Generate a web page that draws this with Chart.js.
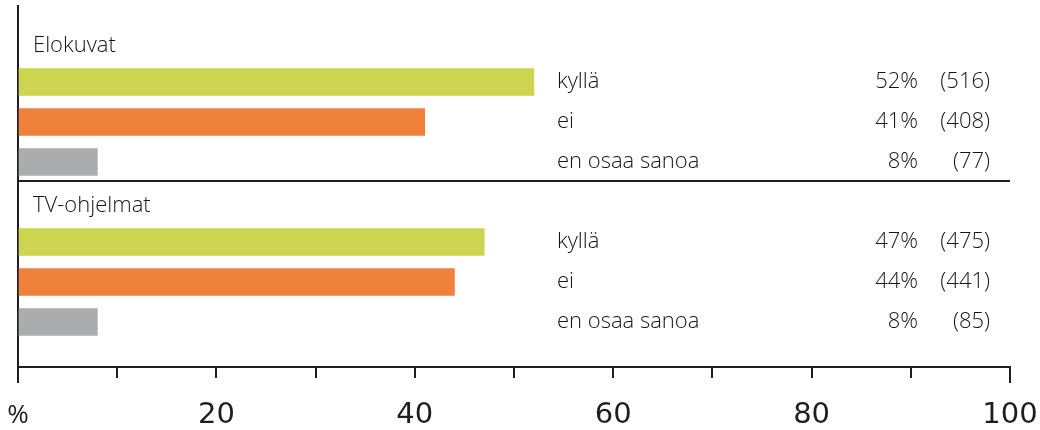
<!DOCTYPE html>
<html>
<head>
<meta charset="utf-8">
<script src="https://cdn.jsdelivr.net/npm/chart.js@4"></script>
<style>
  body { margin: 0; background: #fff; }
  #wrap { width: 1040px; height: 430px; }
</style>
</head>
<body>
<div id="wrap"><canvas id="chart" width="1040" height="430"></canvas></div>
<script>
// data
const groups = ["Elokuvat", "TV-ohjelmat"];
const answers = ["kyllä", "ei", "en osaa sanoa"];
const elokuvatPct = [52, 41, 8];
const elokuvatCount = [516, 408, 77];
const tvPct = [47, 44, 8];
const tvCount = [475, 441, 85];
const tickLabels = { 0: "%", 20: "20", 40: "40", 60: "60", 80: "80", 100: "100" };

const answerColors = ["#cdd44f", "#f0813c", "#abacae"];
const lineColor = "#1e1e1e";
const textFont = "'Open Sans', sans-serif";

// each group: a header row, then one row per answer
const rows = [];
const groupData = [[elokuvatPct, elokuvatCount], [tvPct, tvCount]];
groups.forEach((g, gi) => {
    const base = gi * (answers.length + 1);
    rows.push({ type: "header", row: base, text: g });
    answers.forEach((a, ai) => {
        rows.push({
            type: "bar", row: base + 1 + ai, text: a,
            pct: groupData[gi][0][ai], count: groupData[gi][1][ai], color: answerColors[ai]
        });
    });
});
const barRows = rows.filter(r => r.type === "bar");

const textPlugin = {
    id: "textPlugin",
    afterDraw(chart) {
        const ctx = chart.ctx;
        const y = chart.scales.y;
        const x = chart.scales.x;
        const area = chart.chartArea;
        ctx.save();
        ctx.fillStyle = "#151515";
        ctx.font = "350 22px " + textFont;
        ctx.textBaseline = "middle";
        rows.forEach(r => {
            const py = y.getPixelForValue(r.row);
            if (r.type === "header") {
                ctx.textAlign = "left";
                ctx.fillText(r.text, 33, py + 4);
            } else {
                ctx.textAlign = "left";
                ctx.fillText(r.text, 557, py);
                ctx.textAlign = "right";
                ctx.fillText(r.pct + "%", 918, py);
                ctx.fillText("(" + r.count + ")", 990, py);
            }
        });
        // separator between the groups
        const sepY = Math.round(y.getPixelForValue(answers.length) + 19);
        ctx.strokeStyle = lineColor;
        ctx.lineWidth = 2;
        ctx.beginPath();
        ctx.moveTo(area.left, sepY);
        ctx.lineTo(area.right, sepY);
        ctx.stroke();
        // longer end ticks
        ctx.beginPath();
        [0, 100].forEach(v => {
            const px = x.getPixelForValue(v);
            ctx.moveTo(px, area.bottom);
            ctx.lineTo(px, area.bottom + 16);
        });
        ctx.stroke();
        ctx.restore();
    }
};

new Chart(document.getElementById("chart"), {
    type: "bar",
    data: {
        datasets: [{
            data: barRows.map(r => ({ x: r.pct, y: r.row })),
            backgroundColor: barRows.map(r => r.color),
            barThickness: 27,
            borderWidth: 0
        }]
    },
    options: {
        indexAxis: "y",
        responsive: false,
        animation: false,
        layout: { padding: { left: 18, right: 30, top: 6, bottom: 0 } },
        plugins: { legend: { display: false }, tooltip: { enabled: false } },
        scales: {
            x: {
                type: "linear",
                min: 0,
                max: 100,
                afterFit: s => { s.height = 63; s.paddingLeft = 0; s.paddingRight = 0; },
                grid: { drawOnChartArea: false, tickLength: 11, color: lineColor, lineWidth: 2 },
                border: { color: lineColor, width: 2 },
                ticks: {
                    stepSize: 10,
                    padding: 20,
                    maxRotation: 0,
                    autoSkip: false,
                    color: "#1e1e1e",
                    callback: v => tickLabels[v] !== undefined ? tickLabels[v] : "",
                    font: c => c.tick && c.tick.value === 0
                        ? { family: "'Open Sans', sans-serif", size: 26, lineHeight: 1.34 }
                        : { family: "'DejaVu Sans', sans-serif", size: 29, lineHeight: 1.2 }
                }
            },
            y: {
                type: "linear",
                reverse: true,
                offset: false,
                min: -0.9,
                max: 8.125,
                afterFit: s => { s.width = 0; },
                grid: { display: false, drawTicks: false },
                border: { color: lineColor, width: 2 },
                ticks: { display: false }
            }
        }
    },
    plugins: [textPlugin]
});
</script>
</body>
</html>
